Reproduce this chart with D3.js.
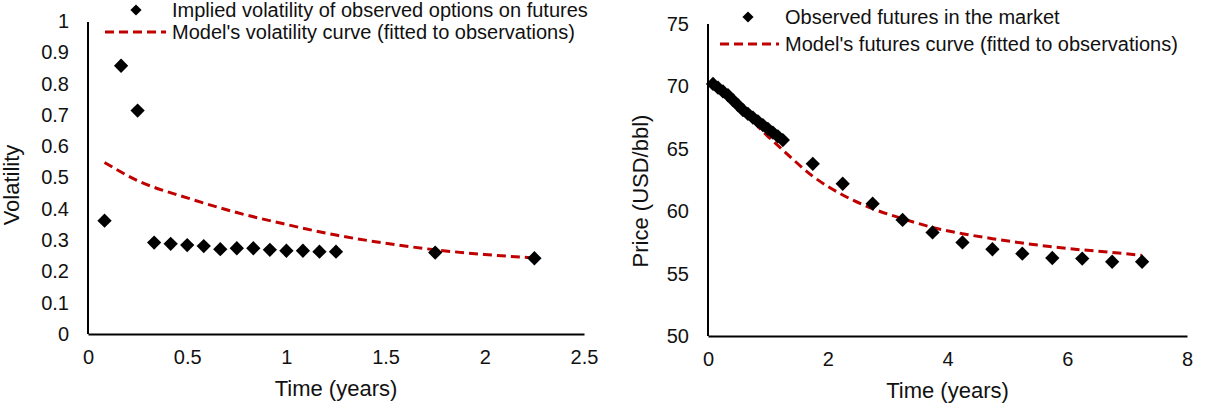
<!DOCTYPE html>
<html>
<head>
<meta charset="utf-8">
<script src="https://cdn.jsdelivr.net/npm/d3@7"></script>
<style>
  html, body { margin: 0; padding: 0; background: #fff; }
  svg { display: block; font-family: "Liberation Sans", Arial, sans-serif; }
</style>
</head>
<body>
<svg id="chart" width="1206" height="412"></svg>
<script>
// ---- Left chart data: volatility ----
const volObsTime = [1/12, 2/12, 3/12, 4/12, 5/12, 6/12, 7/12, 8/12, 9/12, 10/12, 11/12, 12/12, 13/12, 14/12, 15/12, 1.75, 2.25];
const volObsValue = [0.362, 0.857, 0.714, 0.292, 0.288, 0.284, 0.281, 0.271, 0.274, 0.274, 0.269, 0.266, 0.266, 0.263, 0.263, 0.260, 0.242];
const volModelTime = [1/12, 0.25, 0.5, 0.75, 1.0, 1.25, 1.5, 1.75, 2.0, 2.25];
const volModelValue = [0.548, 0.490, 0.435, 0.388, 0.350, 0.316, 0.290, 0.269, 0.254, 0.243];
const volXTicks = [0, 0.5, 1, 1.5, 2, 2.5];
const volYTicks = [0, 0.1, 0.2, 0.3, 0.4, 0.5, 0.6, 0.7, 0.8, 0.9, 1];

// ---- Right chart data: futures ----
const futObsTime = [1/12, 2/12, 3/12, 4/12, 5/12, 6/12, 7/12, 8/12, 9/12, 10/12, 11/12, 12/12, 13/12, 14/12, 15/12,
                    1.75, 2.25, 2.75, 3.25, 3.75, 4.25, 4.75, 5.25, 5.75, 6.25, 6.75, 7.25];
const futObsValue = [70.2, 69.9, 69.6, 69.3, 68.9, 68.5, 68.1, 67.8, 67.5, 67.2, 66.9, 66.6, 66.3, 66.0, 65.7,
                     63.8, 62.2, 60.6, 59.3, 58.3, 57.5, 56.95, 56.6, 56.25, 56.2, 55.95, 55.95];
const futModelTime = [1/12, 0.5, 1.0, 1.25, 1.75, 2.25, 2.75, 3.25, 3.75, 4.25, 4.75, 5.25, 5.75, 6.25, 6.75, 7.25];
const futModelValue = [70.1, 68.4, 66.0, 64.9, 62.8, 61.3, 60.2, 59.4, 58.7, 58.2, 57.8, 57.45, 57.15, 56.9, 56.7, 56.45];
const futXTicks = [0, 2, 4, 6, 8];
const futYTicks = [50, 55, 60, 65, 70, 75];

const svg = d3.select("#chart");
const RED = "#C00000";
const TXT = "#111";

function drawPanel(cfg) {
  const g = svg.append("g");
  const x = d3.scaleLinear().domain(cfg.xDomain).range([cfg.left, cfg.right]);
  const y = d3.scaleLinear().domain(cfg.yDomain).range([cfg.bottom, cfg.top]);

  // axes
  const xAxis = d3.axisBottom(x).tickValues(cfg.xTicks).tickSize(0).tickPadding(16)
    .tickFormat(d => String(d));
  const yAxis = d3.axisLeft(y).tickValues(cfg.yTicks).tickSize(0).tickPadding(19)
    .tickFormat(d => String(d));

  const gx = g.append("g").attr("transform", `translate(0,${cfg.bottom})`).call(xAxis);
  const gy = g.append("g").attr("transform", `translate(${cfg.left},0)`).call(yAxis);
  [gx, gy].forEach(a => {
    a.select(".domain").attr("stroke", "#000").attr("stroke-width", 2);
    a.selectAll("text").attr("font-size", 20).attr("fill", TXT)
      .attr("font-family", "'Liberation Sans', Arial, sans-serif");
  });
  gy.select(".domain").attr("d", `M0,${cfg.bottom}V${cfg.axisTop}`);

  // model line
  const line = d3.line().x(d => x(d[0])).y(d => y(d[1])).curve(d3.curveMonotoneX);
  g.append("path")
    .datum(cfg.modelTime.map((t, i) => [t, cfg.modelValue[i]]))
    .attr("d", line).attr("fill", "none").attr("stroke", RED)
    .attr("stroke-width", 3).attr("stroke-dasharray", "9,5");

  // observations
  const diamond = d3.symbol().type(d3.symbolDiamond2).size(130);
  g.append("g").selectAll("path")
    .data(cfg.obsTime.map((t, i) => [t, cfg.obsValue[i]]))
    .join("path")
    .attr("d", diamond)
    .attr("transform", d => `translate(${x(d[0])},${y(d[1])})`)
    .attr("fill", "#000");

  // axis titles
  g.append("text").attr("x", (cfg.left + cfg.right) / 2).attr("y", cfg.bottom + 62)
    .attr("text-anchor", "middle").attr("font-size", 22).attr("fill", TXT).text(cfg.xTitle);
  g.append("text")
    .attr("transform", `translate(${cfg.yTitleX},${cfg.yTitleY}) rotate(-90)`)
    .attr("text-anchor", "middle").attr("font-size", 22).attr("fill", TXT).text(cfg.yTitle);

  // legend
  const lg = g.append("g");
  lg.append("path").attr("d", d3.symbol().type(d3.symbolDiamond2).size(80))
    .attr("transform", `translate(${cfg.legMarkerX},${cfg.leg1Y})`).attr("fill", "#000");
  lg.append("text").attr("x", cfg.legTextX).attr("y", cfg.leg1Y).attr("dy", "0.35em")
    .attr("font-size", 20).attr("fill", TXT).text(cfg.leg1);
  lg.append("line").attr("x1", cfg.legLineX1).attr("x2", cfg.legLineX2)
    .attr("y1", cfg.leg2Y).attr("y2", cfg.leg2Y)
    .attr("stroke", RED).attr("stroke-width", 3).attr("stroke-dasharray", "9,5");
  lg.append("text").attr("x", cfg.legTextX).attr("y", cfg.leg2Y).attr("dy", "0.35em")
    .attr("font-size", 20).attr("fill", TXT).text(cfg.leg2);
}

drawPanel({
  xDomain: [0, 2.5], yDomain: [0, 1],
  left: 88, right: 584, top: 21, bottom: 334, axisTop: 22,
  xTicks: volXTicks, yTicks: volYTicks,
  obsTime: volObsTime, obsValue: volObsValue,
  modelTime: volModelTime, modelValue: volModelValue,
  xTitle: "Time (years)", yTitle: "Volatility", yTitleX: 19, yTitleY: 185,
  legMarkerX: 136, legTextX: 172, leg1Y: 10, leg2Y: 32, legLineX1: 105, legLineX2: 166,
  leg1: "Implied volatility of observed options on futures",
  leg2: "Model's volatility curve (fitted to observations)"
});

drawPanel({
  xDomain: [0, 8], yDomain: [50, 75],
  left: 708, right: 1187, top: 24, bottom: 336, axisTop: 24,
  xTicks: futXTicks, yTicks: futYTicks,
  obsTime: futObsTime, obsValue: futObsValue,
  modelTime: futModelTime, modelValue: futModelValue,
  xTitle: "Time (years)", yTitle: "Price (USD/bbl)", yTitleX: 648, yTitleY: 191,
  legMarkerX: 748, legTextX: 785, leg1Y: 17, leg2Y: 44, legLineX1: 720, legLineX2: 779,
  leg1: "Observed futures in the market",
  leg2: "Model's futures curve (fitted to observations)"
});
</script>
</body>
</html>
